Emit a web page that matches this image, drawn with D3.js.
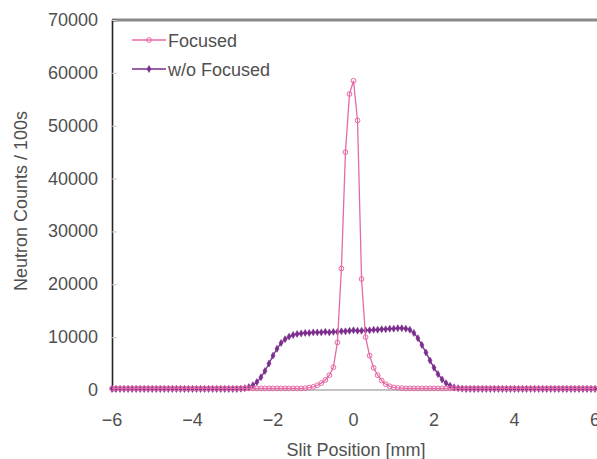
<!DOCTYPE html>
<html>
<head>
<meta charset="utf-8">
<script src="https://cdn.jsdelivr.net/npm/d3@7"></script>
<style>
  body { margin: 0; background: #fff; }
  svg text { font-family: "Liberation Sans", Arial, sans-serif; fill: #505050; }
</style>
</head>
<body>
<svg id="chart" width="597" height="459"></svg>
<script>
'use strict'

// slit positions [mm], 0.1 mm steps
const POSITIONS = [
  -6.0, -5.9, -5.8, -5.7, -5.6, -5.5, -5.4, -5.3, -5.2, -5.1,
  -5.0, -4.9, -4.8, -4.7, -4.6, -4.5, -4.4, -4.3, -4.2, -4.1,
  -4.0, -3.9, -3.8, -3.7, -3.6, -3.5, -3.4, -3.3, -3.2, -3.1,
  -3.0, -2.9, -2.8, -2.7, -2.6, -2.5, -2.4, -2.3, -2.2, -2.1,
  -2.0, -1.9, -1.8, -1.7, -1.6, -1.5, -1.4, -1.3, -1.2, -1.1,
  -1.0, -0.9, -0.8, -0.7, -0.6, -0.5, -0.4, -0.3, -0.2, -0.1,
  0.0, 0.1, 0.2, 0.3, 0.4, 0.5, 0.6, 0.7, 0.8, 0.9,
  1.0, 1.1, 1.2, 1.3, 1.4, 1.5, 1.6, 1.7, 1.8, 1.9,
  2.0, 2.1, 2.2, 2.3, 2.4, 2.5, 2.6, 2.7, 2.8, 2.9,
  3.0, 3.1, 3.2, 3.3, 3.4, 3.5, 3.6, 3.7, 3.8, 3.9,
  4.0, 4.1, 4.2, 4.3, 4.4, 4.5, 4.6, 4.7, 4.8, 4.9,
  5.0, 5.1, 5.2, 5.3, 5.4, 5.5, 5.6, 5.7, 5.8, 5.9,
  6.0
];

const FOCUSED = [
  300, 300, 300, 300, 300, 300, 300, 300, 300, 300,
  300, 300, 300, 300, 300, 300, 300, 300, 300, 300,
  300, 300, 300, 300, 300, 300, 300, 300, 300, 300,
  300, 300, 300, 300, 300, 300, 300, 300, 300, 300,
  300, 300, 300, 300, 300, 300, 300, 300, 350, 450,
  600, 900, 1300, 1900, 2800, 4300, 9000, 23000, 45000, 56000,
  58500, 51000, 21000, 10000, 6500, 4200, 2800, 1800, 1100, 700,
  500, 400, 350, 300, 300, 300, 300, 300, 300, 300,
  300, 300, 300, 300, 300, 300, 300, 300, 300, 300,
  300, 300, 300, 300, 300, 300, 300, 300, 300, 300,
  300, 300, 300, 300, 300, 300, 300, 300, 300, 300,
  300, 300, 300, 300, 300, 300, 300, 300, 300, 300,
  300
];

const NOT_FOCUSED = [
  200, 200, 200, 200, 200, 200, 200, 200, 200, 200,
  200, 200, 200, 200, 200, 200, 200, 200, 200, 200,
  200, 200, 200, 200, 200, 200, 200, 200, 200, 200,
  200, 200, 250, 350, 550, 900, 1500, 2400, 3600, 5000,
  6500, 7800, 8900, 9600, 10100, 10400, 10600, 10700, 10800, 10800,
  10900, 10900, 10900, 11000, 10900, 11000, 11000, 11100, 11100, 11200,
  11300, 11200, 11200, 11300, 11300, 11400, 11400, 11500, 11500, 11600,
  11600, 11700, 11700, 11600, 11400, 10800, 9800, 8500, 7100, 5600,
  4200, 3000, 2000, 1300, 800, 500, 350, 250, 200, 200,
  200, 200, 200, 200, 200, 200, 200, 200, 200, 200,
  200, 200, 200, 200, 200, 200, 200, 200, 200, 200,
  200, 200, 200, 200, 200, 200, 200, 200, 200, 200,
  200
];

const X_TICKS = [-6, -4, -2, 0, 2, 4, 6];
const Y_TICKS = [0, 10000, 20000, 30000, 40000, 50000, 60000, 70000];

const SERIES = [
	{ name: 'w/o Focused', values: NOT_FOCUSED, color: '#7b2d8c', marker: 'diamond' },
	{ name: 'Focused', values: FOCUSED, color: '#e66aa6', marker: 'circle' }
];

var svg = d3.select('#chart');

var x = d3.scaleLinear()
	.domain([-6, 6])
	.range([112, 595]);

var y = d3.scaleLinear()
	.domain([0, 70000])
	.range([390, 20]);

// zero line
svg.append('line')
	.attr('x1', x(-6)).attr('x2', 597)
	.attr('y1', y(0)).attr('y2', y(0))
	.attr('stroke', '#888')
	.attr('stroke-width', 1.2);

// top frame
svg.append('line')
	.attr('x1', x(-6)).attr('x2', 597)
	.attr('y1', y(70000)).attr('y2', y(70000))
	.attr('stroke', '#8a8a8a')
	.attr('stroke-width', 3);

// y axis
var yAxis = svg.append('g')
	.attr('transform', 'translate(' + x(-6) + ',0)')
	.call(d3.axisRight(y).tickValues(Y_TICKS).tickSize(5).tickFormat(''));
yAxis.select('.domain').attr('stroke', '#222').attr('stroke-width', 1.6);
yAxis.selectAll('.tick line').attr('stroke', '#ccc');

svg.append('g')
	.selectAll('text')
	.data(Y_TICKS)
	.enter()
	.append('text')
	.attr('x', 98)
	.attr('y', function(d) { return y(d) + 6; })
	.attr('text-anchor', 'end')
	.style('font-size', '18px')
	.text(function(d) { return d; });

// x tick labels
svg.append('g')
	.selectAll('text')
	.data(X_TICKS)
	.enter()
	.append('text')
	.attr('x', function(d) { return x(d); })
	.attr('y', 426)
	.attr('text-anchor', 'middle')
	.style('font-size', '18px')
	.text(function(d) { return d < 0 ? '\u2212' + Math.abs(d) : d; });

// axis titles
svg.append('text')
	.attr('x', 356)
	.attr('y', 456)
	.attr('text-anchor', 'middle')
	.style('font-size', '18px')
	.text('Slit Position [mm]');

svg.append('text')
	.attr('transform', 'translate(27,201) rotate(-90)')
	.attr('text-anchor', 'middle')
	.style('font-size', '18px')
	.text('Neutron Counts / 100s');

var line = d3.line()
	.x(function(d, i) { return x(POSITIONS[i]); })
	.y(function(d) { return y(d); });

function drawMarker(sel, s) {
	if (s.marker === 'circle') {
		sel.append('circle')
			.attr('r', 2.4)
			.attr('fill', 'none')
			.attr('stroke', s.color)
			.attr('stroke-width', 1);
	} else {
		sel.append('path')
			.attr('d', d3.symbol(d3.symbolDiamond, 14)())
			.attr('fill', s.color)
			.attr('stroke', s.color)
			.attr('stroke-width', 0.6);
	}
}

SERIES.forEach(function(s) {
	svg.append('path')
		.datum(s.values)
		.attr('d', line)
		.attr('fill', 'none')
		.attr('stroke', s.color)
		.attr('stroke-width', 1.3);

	svg.append('g')
		.selectAll('g')
		.data(s.values)
		.enter()
		.append('g')
		.attr('transform', function(d, i) { return 'translate(' + x(POSITIONS[i]) + ',' + y(d) + ')'; })
		.each(function() { drawMarker(d3.select(this), s); });
});

// legend
var legend = svg.append('g');
[SERIES[1], SERIES[0]].forEach(function(s, i) {
	var ly = 40 + i * 29;
	var g = legend.append('g');
	g.append('line')
		.attr('x1', 132).attr('x2', 166)
		.attr('y1', ly).attr('y2', ly)
		.attr('stroke', s.color)
		.attr('stroke-width', 1.3);
	var m = g.append('g').attr('transform', 'translate(149,' + ly + ')');
	drawMarker(m, s);
	g.append('text')
		.attr('x', 168)
		.attr('y', ly + 7)
		.style('font-size', '18px')
		.text(s.name);
});
</script>
</body>
</html>
